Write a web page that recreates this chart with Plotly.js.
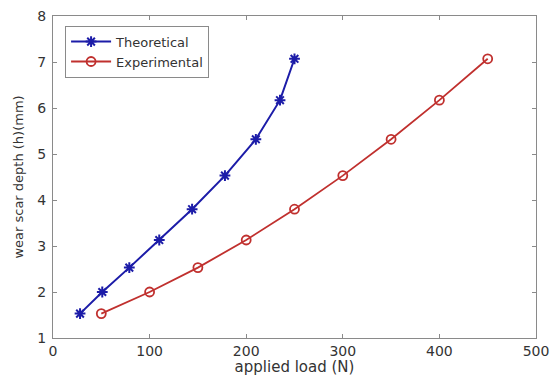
<!DOCTYPE html>
<html>
<head>
<meta charset="utf-8">
<script src="https://cdn.plot.ly/plotly-3.0.1.min.js"></script>
<style>html,body{margin:0;padding:0;background:#fff;}#chart{width:555px;height:376px;}</style>
</head>
<body>
<div id="chart"></div>
<script>
var theoLoad = [28, 51, 79, 110, 144, 178, 210, 235, 250];
var theoDepth = [1.53, 2.0, 2.53, 3.13, 3.8, 4.53, 5.32, 6.17, 7.07];
var expLoad = [50, 100, 150, 200, 250, 300, 350, 400, 450];
var expDepth = [1.53, 2.0, 2.53, 3.13, 3.8, 4.53, 5.32, 6.17, 7.07];
var xTicks = [0, 100, 200, 300, 400, 500];
var yTicks = [1, 2, 3, 4, 5, 6, 7, 8];

var traces = [
  {x: theoLoad, y: theoDepth, name: 'Theoretical', mode: 'lines+markers', type: 'scatter',
   line: {color: '#1c1ca8', width: 2},
   marker: {symbol: 'asterisk-open', size: 9, color: '#1c1ca8', line: {color: '#1c1ca8', width: 2}}},
  {x: expLoad, y: expDepth, name: 'Experimental', mode: 'lines+markers', type: 'scatter',
   line: {color: '#c0302e', width: 1.8},
   marker: {symbol: 'circle-open', size: 9, color: '#c0302e', line: {color: '#c0302e', width: 1.8}}}
];

var axisCommon = {
  showgrid: false, zeroline: false, showline: true, mirror: 'ticks',
  linecolor: '#8a8a8a', linewidth: 1, ticks: 'inside', ticklen: 4, tickcolor: '#8a8a8a',
  tickfont: {family: 'DejaVu Sans', size: 14, color: '#333'}
};

var layout = {
  width: 555, height: 376,
  margin: {l: 53, r: 19, t: 16, b: 38},
  paper_bgcolor: '#fff', plot_bgcolor: '#fff',
  font: {family: 'DejaVu Sans', color: '#333'},
  showlegend: true,
  legend: {x: 0.025, y: 0.97, xanchor: 'left', yanchor: 'top', bgcolor: '#fff',
    bordercolor: '#8a8a8a', borderwidth: 1, font: {family: 'DejaVu Sans', size: 13, color: '#333'},
    tracegroupgap: 0, itemwidth: 40},
  xaxis: Object.assign({}, axisCommon, {range: [0, 500], tickvals: xTicks, ticktext: xTicks.map(String),
    ticklabelstandoff: 0,
    title: {text: 'applied load (N)', font: {family: 'DejaVu Sans', size: 15, color: '#333'}, standoff: 0}, automargin: false}),
  yaxis: Object.assign({}, axisCommon, {range: [1, 8], tickvals: yTicks, ticktext: yTicks.map(String),
    ticklabelstandoff: 3,
    title: {text: 'wear scar depth (h)(mm)', font: {family: 'DejaVu Sans', size: 13, color: '#333'}, standoff: 10}, automargin: false})
};

Plotly.newPlot('chart', traces, layout, {displayModeBar: false, staticPlot: true});
</script>
</body>
</html>
